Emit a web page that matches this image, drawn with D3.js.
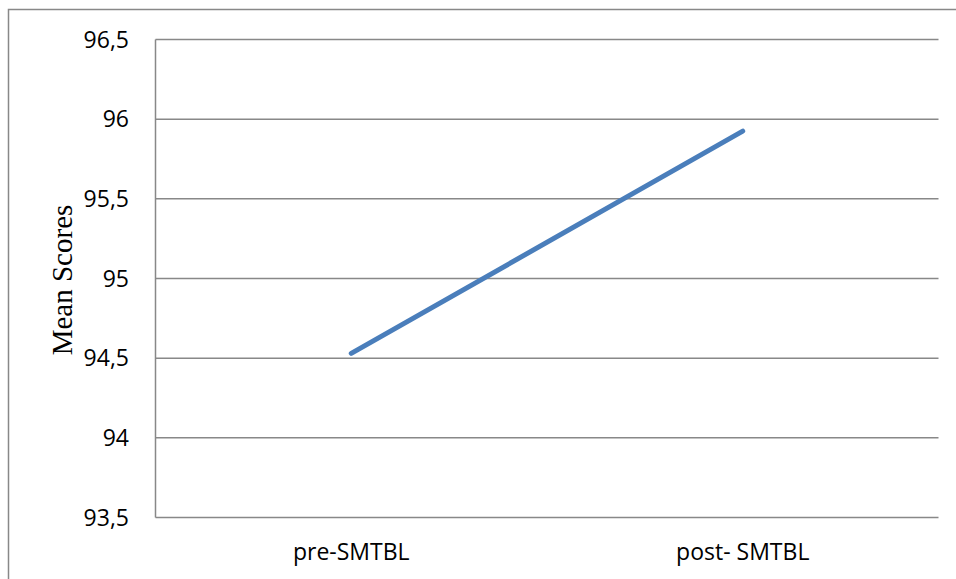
<!DOCTYPE html>
<html><head><meta charset="utf-8">
<script src="https://cdn.jsdelivr.net/npm/d3@7"></script>
<style>body{margin:0;background:#fff;}svg{display:block;}</style>
</head><body>
<script>
const categories = ["pre-SMTBL", "post- SMTBL"];
const meanScores = [94.53, 95.925];
const yTicks = [93.5, 94, 94.5, 95, 95.5, 96, 96.5];
const yTickLabels = ["93,5", "94", "94,5", "95", "95,5", "96", "96,5"];

const W = 956, H = 579;
const m = {left: 155.5, top: 39.5, right: 938.5, bottom: 517.5};
const svg = d3.select("body").append("svg").attr("width", W).attr("height", H);

// outer frame
svg.append("rect").attr("x", 8.5).attr("y", 9.5).attr("width", W + 10).attr("height", H + 10)
  .attr("fill", "none").attr("stroke", "#888").attr("stroke-width", 1.5);

const x = d3.scaleBand().domain(categories).range([m.left, m.right]);
const y = d3.scaleLinear().domain([93.5, 96.5]).range([m.bottom, m.top]);

// gridlines
svg.append("g").selectAll("line").data(yTicks).join("line")
  .attr("x1", m.left).attr("x2", m.right)
  .attr("y1", d => y(d)).attr("y2", d => y(d))
  .attr("stroke", "#888").attr("stroke-width", 1.5);
// left axis line
svg.append("line").attr("x1", m.left).attr("x2", m.left).attr("y1", m.top).attr("y2", m.bottom)
  .attr("stroke", "#888").attr("stroke-width", 1.5);

// y tick labels
svg.append("g").selectAll("text").data(yTicks).join("text")
  .attr("x", 129).attr("y", d => y(d)).attr("dy", "0.35em")
  .attr("text-anchor", "end")
  .attr("font-family", "'Open Sans', 'Liberation Sans', sans-serif").attr("font-size", 23)
  .attr("fill", "#000")
  .text((d, i) => yTickLabels[i]);

// x labels
svg.append("g").selectAll("text").data(categories).join("text")
  .attr("x", d => x(d) + x.bandwidth() / 2).attr("y", 560)
  .attr("text-anchor", "middle")
  .attr("font-family", "'Open Sans', 'Liberation Sans', sans-serif").attr("font-size", 23)
  .attr("fill", "#000")
  .text(d => d);

// y axis title
svg.append("text").attr("transform", "translate(72,280) rotate(-90)")
  .attr("text-anchor", "middle")
  .attr("font-family", "'Liberation Serif', 'Times New Roman', serif").attr("font-size", 29)
  .attr("fill", "#000")
  .text("Mean Scores");

// line
const line = d3.line().x((d, i) => x(categories[i]) + x.bandwidth() / 2).y(d => y(d));
svg.append("path").datum(meanScores).attr("d", line)
  .attr("fill", "none").attr("stroke", "#4a7ebb").attr("stroke-width", 5)
  .attr("stroke-linecap", "round");
</script>
</body></html>
